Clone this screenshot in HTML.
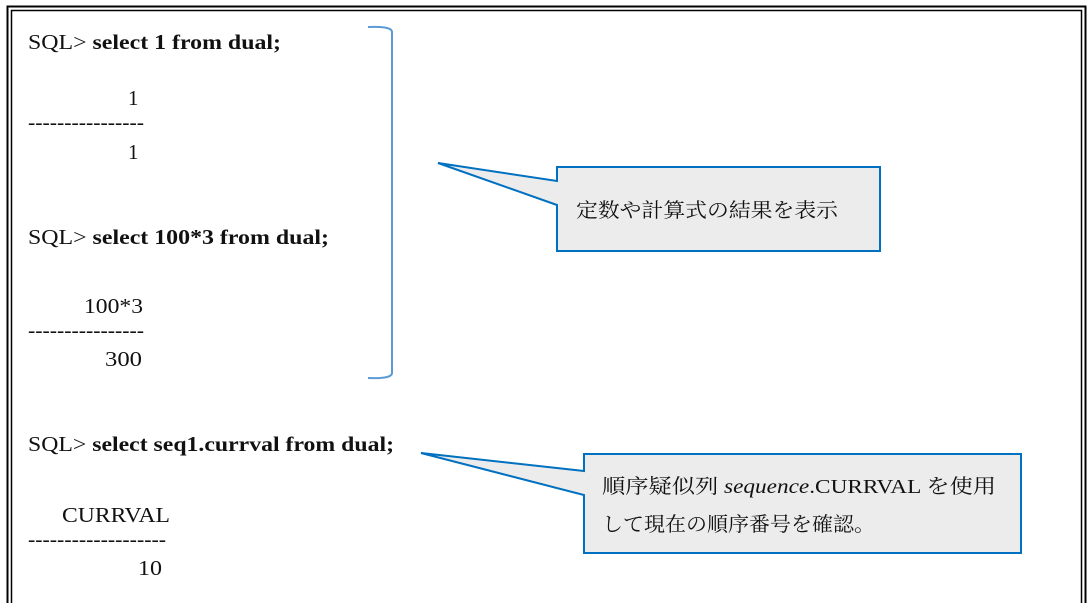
<!DOCTYPE html>
<html><head><meta charset="utf-8"><style>
body{margin:0;background:#fff;width:1089px;height:603px;overflow:hidden}
svg text{font-family:"Liberation Serif","Noto Serif CJK SC",serif;font-size:21px;fill:#111}
.b{font-weight:bold}
.j{font-family:"Liberation Serif","Noto Serif CJK SC",serif;font-size:20px}
</style></head><body>
<svg width="1089" height="603" viewBox="0 0 1089 603">
<rect x="7.5" y="6.5" width="1078" height="620" fill="none" stroke="#000" stroke-width="2"/>
<rect x="11.5" y="10.5" width="1070" height="620" fill="none" stroke="#000" stroke-width="1.5"/>
<path d="M368 27 Q392 26 392 32 L392 373 Q392 379 368 378" fill="none" stroke="#5b9bd5" stroke-width="2"/>
<text x="28" y="49" textLength="253" lengthAdjust="spacingAndGlyphs">SQL&gt; <tspan class="b">select 1 from dual;</tspan></text>
<text x="128" y="105">1</text>
<text x="28" y="129" textLength="116" lengthAdjust="spacingAndGlyphs">----------------</text>
<text x="128" y="159">1</text>
<text x="28" y="244" textLength="301" lengthAdjust="spacingAndGlyphs">SQL&gt; <tspan class="b">select 100*3 from dual;</tspan></text>
<text x="84" y="313" textLength="59" lengthAdjust="spacingAndGlyphs">100*3</text>
<text x="28" y="337" textLength="116" lengthAdjust="spacingAndGlyphs">----------------</text>
<text x="105" y="366" textLength="37" lengthAdjust="spacingAndGlyphs">300</text>
<text x="28" y="451" textLength="366" lengthAdjust="spacingAndGlyphs">SQL&gt; <tspan class="b">select seq1.currval from dual;</tspan></text>
<text x="62" y="522" textLength="108" lengthAdjust="spacingAndGlyphs">CURRVAL</text>
<text x="28" y="546" textLength="138" lengthAdjust="spacingAndGlyphs">-------------------</text>
<text x="138" y="575" textLength="24" lengthAdjust="spacingAndGlyphs">10</text>
<path d="M557 167 H880 V251 H557 V205 L438 163 L557 181 Z" fill="#ececec" stroke="#0070c0" stroke-width="2"/>
<text class="j" x="576" y="217" textLength="262" lengthAdjust="spacingAndGlyphs">定数や計算式の結果を表示</text>
<path d="M584 454 H1021 V553 H584 V495 L421 453 L584 471 Z" fill="#ececec" stroke="#0070c0" stroke-width="2"/>
<text class="j" x="602" y="493" textLength="394" lengthAdjust="spacingAndGlyphs">順序疑似列 <tspan font-style="italic">sequence</tspan>.CURRVAL を使用</text>
<text class="j" x="602" y="531" textLength="273" lengthAdjust="spacingAndGlyphs">して現在の順序番号を確認。</text>
</svg>
</body></html>
